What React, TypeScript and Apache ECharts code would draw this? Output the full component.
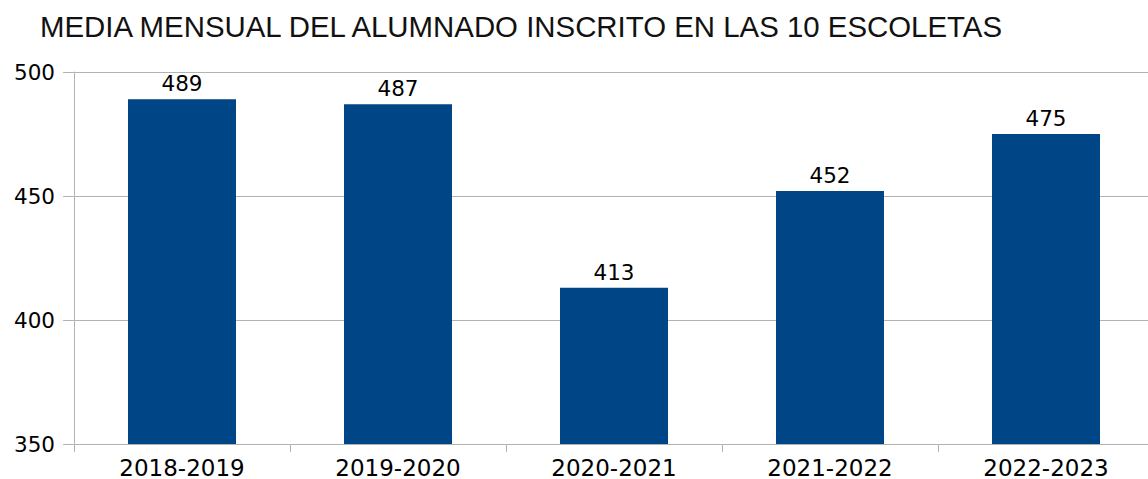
import React, { useEffect, useRef } from "react";
import * as echarts from "echarts";

const titleText = "MEDIA MENSUAL DEL ALUMNADO INSCRITO EN LAS 10 ESCOLETAS";
const categories = ["2018-2019", "2019-2020", "2020-2021", "2021-2022", "2022-2023"];
const values = [489, 487, 413, 452, 475];
const yMin = 350;
const yMax = 500;
const yInterval = 50;

export default function App() {
  const ref = useRef<HTMLDivElement>(null);
  useEffect(() => {
    document.body.style.margin = "0";
    if (!ref.current) return;
    const chart = echarts.init(ref.current, undefined, { renderer: "svg" });
    chart.setOption({
      animation: false,
      backgroundColor: "#ffffff",
      title: {
        text: titleText,
        left: 40,
        top: 12,
        padding: 0,
        textStyle: {
          fontFamily: "Liberation Sans",
          fontSize: 29.4,
          fontWeight: "normal",
          color: "#111111",
          lineHeight: 29,
        },
      },
      grid: { left: 74, right: 0, top: 72, bottom: 34, containLabel: false },
      xAxis: {
        type: "category",
        data: categories,
        boundaryGap: true,
        axisLine: { show: true, lineStyle: { color: "#b3b3b3", width: 1 } },
        axisTick: { show: true, length: 8, alignWithLabel: false, lineStyle: { color: "#b3b3b3" } },
        axisLabel: {
          fontFamily: "DejaVu Sans",
          fontSize: 23,
          color: "#000000",
          margin: 12,
          lineHeight: 23,
        },
        splitLine: { show: false },
      },
      yAxis: {
        type: "value",
        min: yMin,
        max: yMax,
        interval: yInterval,
        axisLine: { show: true, lineStyle: { color: "#b3b3b3", width: 1 } },
        axisTick: { show: true, length: 11, lineStyle: { color: "#b3b3b3" } },
        axisLabel: {
          fontFamily: "DejaVu Sans",
          fontSize: 21.5,
          color: "#000000",
          margin: 19,
        },
        splitLine: { show: true, lineStyle: { color: "#b3b3b3", width: 1 } },
      },
      series: [
        {
          type: "bar",
          data: values,
          barWidth: "50%",
          itemStyle: { color: "#004586" },
          label: {
            show: true,
            position: "top",
            distance: 5,
            fontFamily: "DejaVu Sans",
            fontSize: 21.5,
            lineHeight: 21.5,
            color: "#000000",
          },
        },
      ],
    });
    return () => chart.dispose();
  }, []);
  return (
    <div style={{ width: 1148, height: 479, overflow: "hidden" }}>
      <div ref={ref} style={{ width: 1154, height: 479 }} />
    </div>
  );
}
